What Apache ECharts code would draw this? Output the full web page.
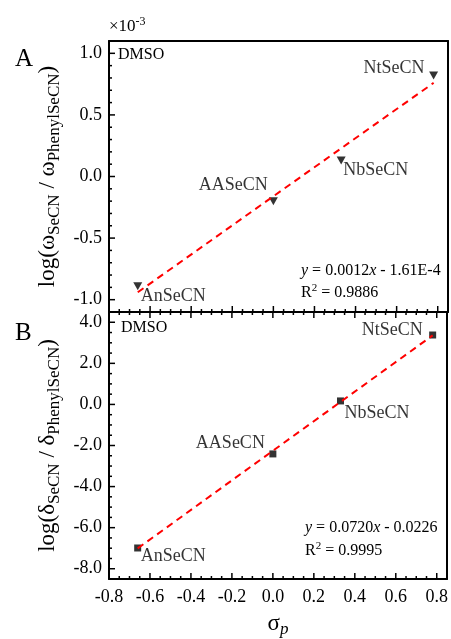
<!DOCTYPE html>
<html>
<head>
<meta charset="utf-8">
<script src="https://cdn.jsdelivr.net/npm/echarts@6/dist/echarts.min.js"></script>
<style>
    html, body { margin: 0; padding: 0; background: #fff; }
    #chart { width: 451px; height: 639px; }
</style>
</head>
<body>
<div id="chart"></div>
<script>
    // data
    const compounds = ['AnSeCN', 'AASeCN', 'NbSeCN', 'NtSeCN'];
    const sigmaP = [-0.66, 0.00, 0.33, 0.78];
    const logOmega = [-0.89, -0.20, 0.13, 0.82];   // x 10^-3
    const logDelta = [-6.99, -2.41, 0.17, 3.38];
    const omegaFitX = [-0.66, 0.78];
    const omegaFitY = [-0.94, 0.76];
    const deltaFitX = [-0.66, 0.78];
    const deltaFitY = [-7.01, 3.36];
    const xTicks = [-0.8, -0.6, -0.4, -0.2, 0.0, 0.2, 0.4, 0.6, 0.8];
    const omegaTicks = [-1.0, -0.5, 0.0, 0.5, 1.0];
    const deltaTicks = [-8, -6, -4, -2, 0, 2, 4];

    const font = 'Liberation Serif';
    const xMin = -0.8, xMax = 0.85;
    const oMin = -1.1, oMax = 1.1;
    const dMin = -8.5, dMax = 4.5;

    // only print the labels that are in the tick list
    function pick(list) {
        return function (v) {
            for (let t of list) {
                if (Math.abs(v - t) < 1e-6) return t.toFixed(1);
            }
            return '';
        };
    }

    function minors(majors, n) {
        let out = [];
        for (let i = 0; i < majors.length - 1; i++) {
            let step = (majors[i + 1] - majors[i]) / n;
            for (let k = 1; k < n; k++) out.push(majors[i] + step * k);
        }
        return out;
    }

    function xAx(gridIndex, position, labels) {
        return {
            type: 'value', gridIndex: gridIndex, position: position,
            min: xMin, max: xMax, interval: 0.2,
            axisLine: { show: true, onZero: false, lineStyle: { color: '#000', width: 2 } },
            splitLine: { show: false },
            axisTick: { show: false },
            axisLabel: labels ? {
                formatter: pick(labels), showMaxLabel: false,
                color: '#000', fontFamily: font, fontSize: 18, margin: 9
            } : { show: false }
        };
    }
    function yAx(gridIndex, min, max, step, labels) {
        return {
            type: 'value', gridIndex: gridIndex, position: 'left',
            min: min, max: max, interval: step,
            axisLine: { show: true, onZero: false, lineStyle: { color: '#000', width: 2 } },
            splitLine: { show: false },
            axisTick: { show: false },
            axisLabel: {
                formatter: pick(labels),
                color: '#000', fontFamily: font, fontSize: 18, margin: 7
            }
        };
    }
    function edgeAxis(gridIndex, position, min, max) {
        return {
            type: 'value', gridIndex: gridIndex, position: position, min: min, max: max,
            axisLine: { show: true, onZero: false, lineStyle: { color: '#000', width: 2 } },
            splitLine: { show: false }, axisTick: { show: false }, axisLabel: { show: false }
        };
    }

    const subRich = {
        m: { fontFamily: font, fontSize: 23, lineHeight: 29, color: '#000' },
        s: { fontFamily: font, fontSize: 17, lineHeight: 17, verticalAlign: 'bottom', color: '#000' },
        si: { fontFamily: font, fontSize: 17, lineHeight: 17, verticalAlign: 'bottom', fontStyle: 'italic', color: '#000' }
    };

    let xAxes = [
        xAx(0, 'bottom', null),
        xAx(1, 'bottom', xTicks),
        xAx(1, 'top', null),
        edgeAxis(0, 'top', xMin, xMax)
    ];
    xAxes[1].name = '{m|σ}{si|p}';
    xAxes[1].nameLocation = 'middle';
    xAxes[1].nameGap = 30;
    xAxes[1].nameTextStyle = { rich: subRich };

    let yAxes = [
        yAx(0, oMin, oMax, 0.1, omegaTicks),
        yAx(1, dMin, dMax, 0.5, deltaTicks),
        edgeAxis(0, 'right', oMin, oMax),
        edgeAxis(1, 'right', dMin, dMax)
    ];
    yAxes[0].name = '{m|log(ω}{s|SeCN}{m| / ω}{s|PhenylSeCN}{m|)}';
    yAxes[1].name = '{m|log(δ}{s|SeCN}{m| / δ}{s|PhenylSeCN}{m|)}';
    [0, 1].forEach(i => {
        yAxes[i].nameLocation = 'middle';
        yAxes[i].nameRotate = 90;
        yAxes[i].nameGap = 40;
        yAxes[i].nameTextStyle = { rich: subRich };
    });

    // inward tick marks, drawn on the frame through the axes' own scales
    // item: [x, y, major, dir]  dir 0 = up, 1 = down, 2 = right
    function tickItems(values, major, fixed, onX, dir) {
        return values.map(v => onX ? [v, fixed, major, dir] : [fixed, v, major, dir]);
    }
    function renderTick(params, api) {
        let p = api.coord([api.value(0), api.value(1)]);
        let len = api.value(2) ? 6 : 3;
        let dir = api.value(3);
        let dx = 0, dy = 0;
        if (dir === 0) dy = -len;
        else if (dir === 1) dy = len;
        else dx = len;
        return {
            type: 'line',
            shape: { x1: p[0], y1: p[1], x2: p[0] + dx, y2: p[1] + dy },
            style: { stroke: '#000', lineWidth: 1.5 }
        };
    }
    let ticksA = [].concat(
        tickItems(xTicks, 1, oMin, true, 0),
        tickItems(minors(xTicks, 4), 0, oMin, true, 0),
        tickItems(omegaTicks, 1, xMin, false, 2),
        tickItems(minors(omegaTicks, 5), 0, xMin, false, 2)
    );
    let ticksB = [].concat(
        tickItems(xTicks, 1, dMin, true, 0),
        tickItems(minors(xTicks, 4), 0, dMin, true, 0),
        tickItems(xTicks, 1, dMax, true, 1),
        tickItems(minors(xTicks, 4), 0, dMax, true, 1),
        tickItems(deltaTicks, 1, xMin, false, 2),
        tickItems(minors(deltaTicks, 4), 0, xMin, false, 2)
    );

    // label placement next to each marker
    const topPlace = [['right', [-1.5, 10]], ['left', [-1, -16]], ['right', [-2.5, 10]], ['left', [-4.5, -7]]];
    const botPlace = [['right', [-0.5, 8]], ['left', [-4.5, -11]], ['right', [0.5, 12]], ['left', [-6.5, -5]]];

    function points(ys, place) {
        return sigmaP.map((x, i) => ({
            name: compounds[i],
            value: [x, ys[i]],
            label: { position: place[i][0], offset: place[i][1] }
        }));
    }
    const pointLabel = {
        show: true, distance: 0, formatter: '{b}',
        color: '#000', fontFamily: font, fontSize: 18,
        textBorderWidth: 0
    };
    const fitStyle = { color: '#ff0000', width: 2, type: [7, 5] };

    let chart = echarts.init(document.getElementById('chart'));
    chart.setOption({
        animation: false,
        backgroundColor: '#fff',
        grid: [
            { left: 109, right: 3, top: 41, height: 271 },
            { left: 109, right: 3, top: 312, height: 272 }
        ],
        xAxis: xAxes,
        yAxis: yAxes,
        graphic: [
            { type: 'text', left: 15, top: 47, style: { text: 'A', fontFamily: font, fontSize: 25, fill: '#000' } },
            { type: 'text', left: 15, top: 321, style: { text: 'B', fontFamily: font, fontSize: 25, fill: '#000' } },
            { type: 'text', left: 109, top: 16, style: {
                text: '{a|×10}{b|-3}',
                rich: {
                    a: { fontFamily: font, fontSize: 17, lineHeight: 22, fill: '#000' },
                    b: { fontFamily: font, fontSize: 12, lineHeight: 12, verticalAlign: 'top', fill: '#000' }
                }
            } },
            { type: 'text', left: 118, top: 47, style: { text: 'DMSO', fontFamily: font, fontSize: 16, fill: '#000' } },
            { type: 'text', left: 121, top: 320, style: { text: 'DMSO', fontFamily: font, fontSize: 16, fill: '#000' } },
            { type: 'text', left: 301, top: 263, style: {
                text: '{i|y} = 0.0012{i|x} - 1.61E-4',
                rich: { i: { fontStyle: 'italic', fontFamily: font, fontSize: 16, fill: '#000' } },
                fontFamily: font, fontSize: 16, fill: '#000'
            } },
            { type: 'text', left: 301, top: 283, style: {
                text: 'R{p|2} = 0.9886',
                rich: { p: { fontFamily: font, fontSize: 11, lineHeight: 11, verticalAlign: 'top', fill: '#000' } },
                fontFamily: font, fontSize: 16, lineHeight: 20, fill: '#000'
            } },
            { type: 'text', left: 305, top: 520, style: {
                text: '{i|y} = 0.0720{i|x} - 0.0226',
                rich: { i: { fontStyle: 'italic', fontFamily: font, fontSize: 16, fill: '#000' } },
                fontFamily: font, fontSize: 16, fill: '#000'
            } },
            { type: 'text', left: 305, top: 541, style: {
                text: 'R{p|2} = 0.9995',
                rich: { p: { fontFamily: font, fontSize: 11, lineHeight: 11, verticalAlign: 'top', fill: '#000' } },
                fontFamily: font, fontSize: 16, lineHeight: 20, fill: '#000'
            } }
        ],
        series: [
            {
                type: 'custom', xAxisIndex: 0, yAxisIndex: 0, silent: true, clip: false,
                renderItem: renderTick, data: ticksA
            },
            {
                type: 'custom', xAxisIndex: 1, yAxisIndex: 1, silent: true, clip: false,
                renderItem: renderTick, data: ticksB
            },
            {
                type: 'scatter', xAxisIndex: 0, yAxisIndex: 0,
                symbol: 'triangle', symbolRotate: 180, symbolSize: [9, 8],
                itemStyle: { color: '#000' },
                label: pointLabel,
                data: points(logOmega, topPlace)
            },
            {
                type: 'line', xAxisIndex: 0, yAxisIndex: 0, symbol: 'none',
                lineStyle: fitStyle, z: 3,
                data: omegaFitX.map((x, i) => [x, omegaFitY[i]])
            },
            {
                type: 'scatter', xAxisIndex: 1, yAxisIndex: 1,
                symbol: 'rect', symbolSize: 7,
                itemStyle: { color: '#000' },
                label: pointLabel,
                data: points(logDelta, botPlace)
            },
            {
                type: 'line', xAxisIndex: 1, yAxisIndex: 1, symbol: 'none',
                lineStyle: fitStyle, z: 3,
                data: deltaFitX.map((x, i) => [x, deltaFitY[i]])
            }
        ]
    });
</script>
</body>
</html>
